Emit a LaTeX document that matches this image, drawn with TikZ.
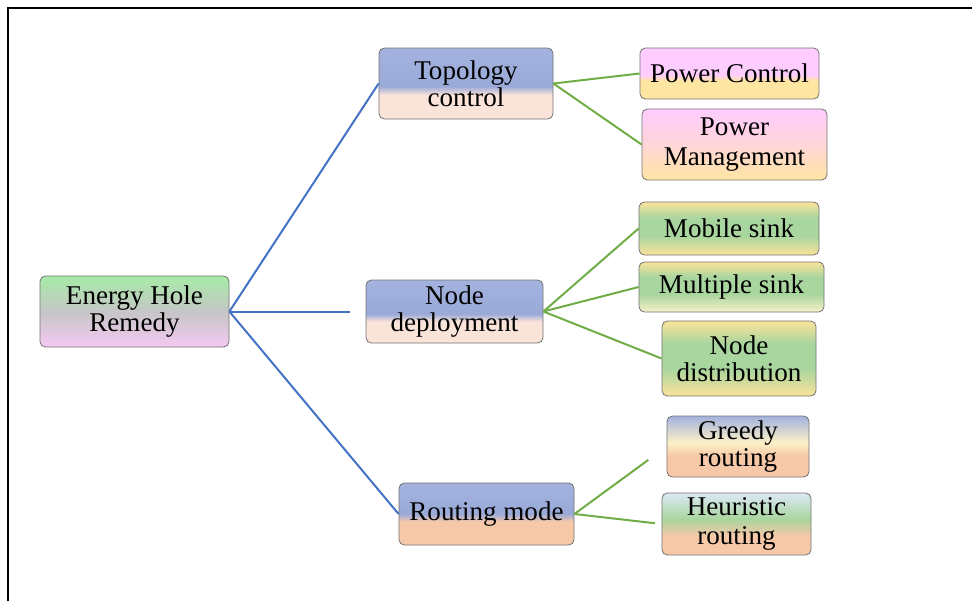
\documentclass[tikz,border=0pt]{standalone}
\usepackage{fontspec}
\setmainfont{Liberation Serif}

\definecolor{trunkblue}{HTML}{4472C4}
\definecolor{twiggreen}{HTML}{70AD47}
\definecolor{rootgreen}{HTML}{A6EBA6}
\definecolor{rootgrey}{HTML}{C6C6C6}
\definecolor{rootpink}{HTML}{F5C8F3}
\definecolor{lvlblue}{HTML}{A3B2DE}
\definecolor{lvlbluemid}{HTML}{9AAAD8}
\definecolor{lvlpeach}{HTML}{FAE3D8}
\definecolor{lvlorange}{HTML}{F7C8A8}
\definecolor{leafpink}{HTML}{FFCCFF}
\definecolor{leafrose}{HTML}{FFD6D8}
\definecolor{leafyellow}{HTML}{FFE5A2}
\definecolor{leafgold}{HTML}{FBE39A}
\definecolor{leafgreen}{HTML}{A9D59E}
\definecolor{leafcream}{HTML}{F7F2CC}
\definecolor{leafsky}{HTML}{DCE9F5}
\definecolor{leafbutter}{HTML}{FDF1C6}

\pgfdeclareverticalshading{rootfill}{100bp}{color(0bp)=(rootpink); color(25bp)=(rootpink); color(50bp)=(rootgrey); color(75bp)=(rootgreen); color(100bp)=(rootgreen)}
\pgfdeclareverticalshading{lvlfill}{100bp}{color(0bp)=(lvlpeach); color(25bp)=(lvlpeach); color(42bp)=(lvlpeach); color(48bp)=(lvlbluemid); color(75bp)=(lvlblue); color(100bp)=(lvlblue)}
\pgfdeclareverticalshading{routefill}{100bp}{color(0bp)=(lvlorange); color(25bp)=(lvlorange); color(44bp)=(lvlorange); color(50bp)=(lvlbluemid); color(75bp)=(lvlblue); color(100bp)=(lvlblue)}
\pgfdeclareverticalshading{ctlfill}{100bp}{color(0bp)=(leafyellow); color(25bp)=(leafyellow); color(43bp)=(leafyellow); color(49bp)=(leafpink); color(75bp)=(leafpink); color(100bp)=(leafpink)}
\pgfdeclareverticalshading{manfill}{100bp}{color(0bp)=(leafyellow); color(25bp)=(leafyellow); color(50bp)=(leafrose); color(75bp)=(leafpink); color(100bp)=(leafpink)}
\pgfdeclareverticalshading{sinkfill}{100bp}{color(0bp)=(leafgold); color(25bp)=(leafgold); color(43bp)=(leafgreen); color(60bp)=(leafgreen); color(75bp)=(leafgold); color(100bp)=(leafgold)}
\pgfdeclareverticalshading{multifill}{100bp}{color(0bp)=(leafcream); color(25bp)=(leafcream); color(43bp)=(leafgreen); color(60bp)=(leafgreen); color(75bp)=(leafgold); color(100bp)=(leafgold)}
\pgfdeclareverticalshading{greedyfill}{100bp}{color(0bp)=(lvlorange); color(25bp)=(lvlorange); color(42bp)=(lvlorange); color(53bp)=(leafbutter); color(75bp)=(lvlblue); color(100bp)=(lvlblue)}
\pgfdeclareverticalshading{heurfill}{100bp}{color(0bp)=(lvlorange); color(25bp)=(lvlorange); color(40bp)=(lvlorange); color(54bp)=(leafgreen); color(75bp)=(leafsky); color(100bp)=(leafsky)}

\begin{document}
\begin{tikzpicture}[x=0.75pt,y=-0.75pt,
  box/.style={draw=black!55, line width=0.6pt, rounded corners=4pt, shade, align=center,
    inner sep=0pt, font=\fontsize{20.3}{20.5}\selectfont},
  trunk/.style={draw=trunkblue, line width=1.5pt},
  twig/.style={draw=twiggreen, line width=1.5pt}]
  \useasboundingbox (0,0) rectangle (972,601);
  \draw[line width=1.5pt] (8,601) -- (8,8) -- (972,8);

  \node[box, shading=rootfill, minimum width=141.75pt, minimum height=53.25pt] (remedy) at (134.5,311.5) {Energy Hole\\Remedy};

  \node[box, shading=lvlfill, minimum width=130.5pt, minimum height=53.25pt] (topo) at (466,83.5) {Topology\\control};
  \node[box, shading=lvlfill, minimum width=132.75pt, minimum height=47.25pt] (deploy) at (454.5,311.5) {Node\\deployment};
  \node[box, shading=routefill, minimum width=131.25pt, minimum height=46.5pt] (routing) at (486.5,514) {Routing mode};

  \node[box, shading=ctlfill, minimum width=134.25pt, minimum height=38.25pt] (powctl) at (729.5,73.5) {Power Control};
  \node[box, shading=manfill, minimum width=138.75pt, minimum height=53.25pt, font=\fontsize{20.3}{22.5}\selectfont] (powman) at (734.5,144.5) {Power\\Management};
  \node[box, shading=sinkfill, minimum width=135pt, minimum height=39.75pt] (mobile) at (729,228.5) {Mobile sink};
  \node[box, shading=multifill, minimum width=138.75pt, minimum height=37.5pt] (multi) at (731.5,287) {Multiple sink};
  \node[box, shading=sinkfill, minimum width=115.5pt, minimum height=56.25pt] (distr) at (739,358.5) {Node\\distribution};
  \node[box, shading=greedyfill, minimum width=106.5pt, minimum height=45.75pt] (greedy) at (738,446.5) {Greedy\\routing};
  \node[box, shading=heurfill, minimum width=111.75pt, minimum height=46.5pt, font=\fontsize{20.3}{21.5}\selectfont] (heur) at (736.5,524) {Heuristic\\routing};

  \foreach \kid in {topo,routing}
    \draw[trunk] (remedy.east) -- (\kid.west);
  \draw[trunk, shorten >=12pt] (remedy.east) -- (deploy.west);
  \foreach \kid in {powctl,powman}
    \draw[twig] (topo.east) -- (\kid.west);
  \foreach \kid in {mobile,multi,distr}
    \draw[twig] (deploy.east) -- (\kid.west);
  \draw[twig, shorten >=17pt] (routing.east) -- (greedy.west);
  \draw[twig, shorten >=5pt] (routing.east) -- (heur.west);
\end{tikzpicture}
\end{document}
